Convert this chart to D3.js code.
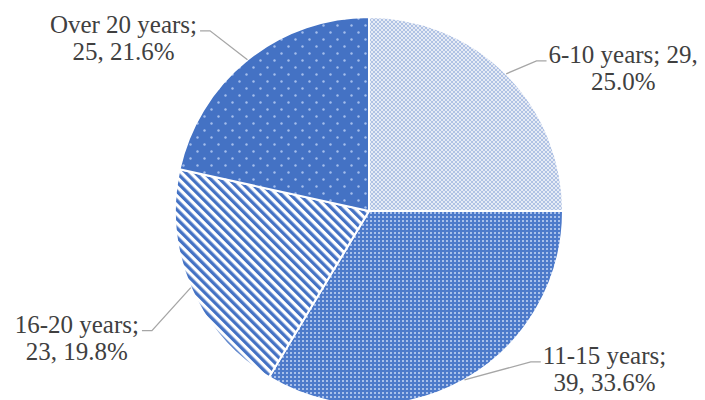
<!DOCTYPE html>
<html>
<head>
<meta charset="utf-8">
<script src="https://cdn.jsdelivr.net/npm/d3@7"></script>
<style>
  html, body { margin: 0; padding: 0; background: #fff; }
  svg { display: block; }
  .lbl { font-family: 'Liberation Serif', 'Times New Roman', 'DejaVu Serif', serif; }
</style>
</head>
<body>
<script>
// data
var categories = ['6-10 years', '11-15 years', '16-20 years', 'Over 20 years']
var counts = [29, 39, 23, 25]
var percents = ['25.0%', '33.6%', '19.8%', '21.6%']
// true: the count stays on the first label line
var countOnFirstLine = [true, false, false, false]

var width = 705, height = 400
var cx = 369, cy = 211, radius = 194
var textColor = '#404040'
var leaderColor = '#a6a6a6'
var fontSize = 25
var lineGap = 27

// label block placement, relative to the point where the leader meets the pie
var labelOffsets = [[117, -11], [140, -16], [-114, 45], [-124, -27]]

const svg = d3.select('body').append('svg')
    .attr('width', width)
    .attr('height', height)

const defs = svg.append('defs')

// light dotted (6-10)
const p1 = defs.append('pattern').attr('id', 'pat0')
    .attr('patternUnits', 'userSpaceOnUse').attr('width', 4).attr('height', 4)
p1.append('rect').attr('width', 4).attr('height', 4).attr('fill', '#e6ebf5')
p1.append('rect').attr('x', 0).attr('y', 0).attr('width', 2).attr('height', 2).attr('fill', '#b0c2e4')
p1.append('rect').attr('x', 2).attr('y', 2).attr('width', 2).attr('height', 2).attr('fill', '#b0c2e4')

// blue with light grid (11-15)
const p2 = defs.append('pattern').attr('id', 'pat1')
    .attr('patternUnits', 'userSpaceOnUse').attr('width', 4).attr('height', 4)
p2.append('rect').attr('width', 4).attr('height', 4).attr('fill', '#4d7aca')
p2.append('rect').attr('x', 1).attr('y', 1).attr('width', 2).attr('height', 2).attr('fill', '#a8c0ea')

// wide downward diagonal (16-20)
const p3 = defs.append('pattern').attr('id', 'pat2')
    .attr('patternUnits', 'userSpaceOnUse').attr('width', 6.5).attr('height', 6.5)
    .attr('patternTransform', 'rotate(-45)')
p3.append('rect').attr('width', 6.5).attr('height', 6.5).attr('fill', '#ffffff')
p3.append('rect').attr('width', 3.3).attr('height', 6.5).attr('fill', '#4472c4')

// solid blue with small dots (Over 20)
const p4 = defs.append('pattern').attr('id', 'pat3')
    .attr('patternUnits', 'userSpaceOnUse').attr('width', 14).attr('height', 14)
p4.append('rect').attr('width', 14).attr('height', 14).attr('fill', '#4472c4')
p4.append('circle').attr('cx', 3.5).attr('cy', 3.5).attr('r', 1.2).attr('fill', '#a3bdec')
p4.append('circle').attr('cx', 10.5).attr('cy', 10.5).attr('r', 1.2).attr('fill', '#a3bdec')

const pie = d3.pie().sort(null).value(d => d)
const arcs = pie(counts)

const arcGen = d3.arc().innerRadius(0).outerRadius(radius)

const chartGroup = svg.append('g').attr('transform', `translate(${cx}, ${cy})`)

chartGroup.selectAll('path.slice')
    .data(arcs)
    .enter().append('path')
    .attr('class', 'slice')
    .attr('d', arcGen)
    .attr('fill', (d, i) => `url(#pat${i})`)
    .attr('stroke', '#ffffff')
    .attr('stroke-width', 2)

// labels and leader lines
const labelGroup = chartGroup.append('g')

arcs.forEach(function (a, i) {
    var mid = (a.startAngle + a.endAngle) / 2
    var ex = Math.sin(mid) * radius
    var ey = -Math.cos(mid) * radius
    var tx = ex + labelOffsets[i][0]
    var ty = ey + labelOffsets[i][1]

    var line1, line2
    if (countOnFirstLine[i]) {
        line1 = categories[i] + '; ' + counts[i] + ','
        line2 = percents[i]
    } else {
        line1 = categories[i] + ';'
        line2 = counts[i] + ', ' + percents[i]
    }

    var text = labelGroup.append('text')
        .attr('class', 'lbl')
        .attr('text-anchor', 'middle')
        .style('font-size', fontSize + 'px')
        .attr('fill', textColor)
    text.append('tspan').attr('x', tx).attr('y', ty).text(line1)
    text.append('tspan').attr('x', tx).attr('y', ty + lineGap).text(line2)

    var w = text.select('tspan').node().getComputedTextLength()
    var right = tx > ex
    var endX = right ? tx - w / 2 - 2 : tx + w / 2 + 3
    var elbowX = right ? endX - 10 : endX + 10
    var lineY = ty - 2

    labelGroup.append('path')
        .attr('d', d3.line()([[ex, ey], [elbowX, lineY], [endX, lineY]]))
        .attr('fill', 'none')
        .attr('stroke', leaderColor)
        .attr('stroke-width', 1.3)
})
</script>
</body>
</html>
